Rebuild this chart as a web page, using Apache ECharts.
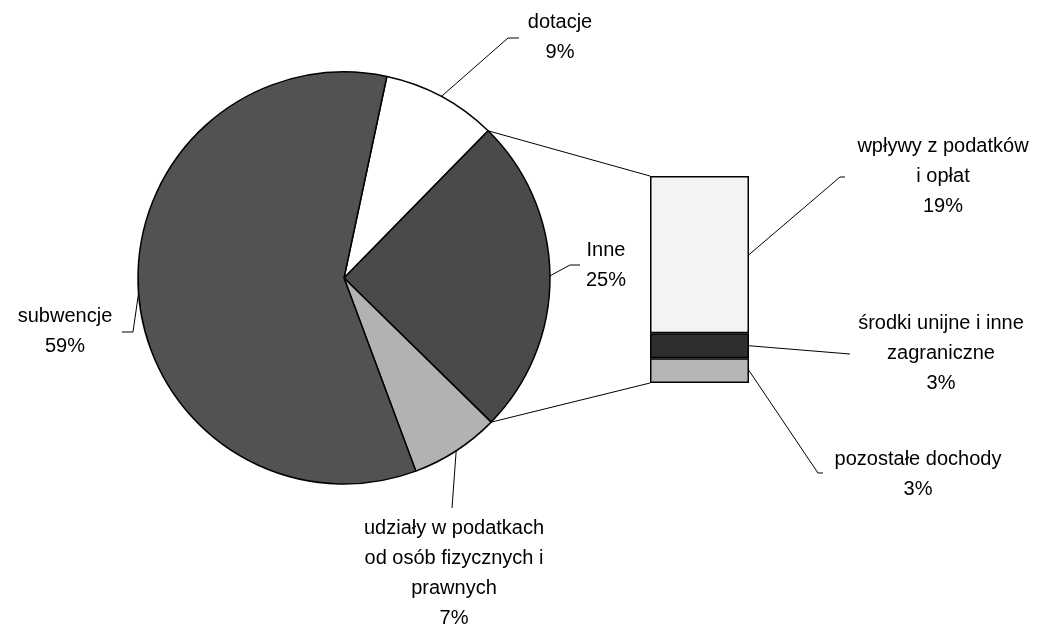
<!DOCTYPE html>
<html>
<head>
<meta charset="utf-8">
<script src="https://cdn.jsdelivr.net/npm/echarts@6/dist/echarts.min.js"></script>
<style>html,body{margin:0;padding:0;background:#fff}#c{width:1045px;height:624px}</style>
</head>
<body>
<div id="c"></div>
<script>
// ---- data ----
var pieNames = ['dotacje', 'Inne', 'udziały w podatkach\nod osób fizycznych i\nprawnych', 'subwencje'];
var pieValues = [9, 25, 7, 59];
var barNames = ['pozostałe dochody', 'środki unijne i inne\nzagraniczne', 'wpływy z podatków\ni opłat'];
var barValues = [3, 3, 19];

// ---- styles / layout ----
var pieColors = ['#ffffff', '#4a4a4a', '#b2b2b2', '#525252'];
var barColors = ['#b6b6b6', '#2e2e2e', '#f3f3f3'];
var pieCenter = [344, 278], pieRadius = 206, startAngle = 78;
var gridRect = {left: 650, top: 176, width: 99, height: 207};
var FONT = '"Liberation Sans", Arial, sans-serif';
var pieLabelPos = {
  0: {x: 560, y: 37, bend: [508, 38], end: [519, 38]},
  1: {x: 606, y: 265, bend: [570, 265], end: [580, 265]},
  2: {x: 454, y: 573, bend: [452, 508], end: [452, 508]},
  3: {x: 65, y: 331, bend: [133, 332], end: [122, 332]}
};
var barLabelPos = {
  0: {x: 918, y: 474, bend: [818, 473], end: [823, 473]},
  1: {x: 941, y: 353, bend: [850, 354], end: [850, 354]},
  2: {x: 943, y: 176, bend: [840, 177], end: [845, 177]}
};

var chart = echarts.init(document.getElementById('c'), null, {renderer: 'canvas'});
var total = pieValues.reduce(function (a, b) { return a + b; }, 0);
var barTotal = barValues.reduce(function (a, b) { return a + b; }, 0);

var labelText = {color: '#000', fontFamily: FONT, fontSize: 20, lineHeight: 30, align: 'center'};

var series = [{
  type: 'pie',
  center: pieCenter,
  radius: pieRadius,
  startAngle: startAngle,
  clockwise: true,
  avoidLabelOverlap: false,
  animation: false,
  data: pieNames.map(function (n, i) {
    return {name: n, value: pieValues[i], itemStyle: {color: pieColors[i]}};
  }),
  itemStyle: {borderColor: '#000', borderWidth: 1.5},
  label: Object.assign({show: true, position: 'outside', formatter: function (p) {
    return p.name + '\n' + Math.round(p.percent) + '%';
  }}, labelText),
  labelLine: {show: true, lineStyle: {color: '#000', width: 1}},
  emphasis: {disabled: true},
  labelLayout: function (p) {
    var o = pieLabelPos[p.dataIndex];
    var start = p.labelLinePoints ? p.labelLinePoints[0] : o.bend;
    return {x: o.x, y: o.y, align: 'center', verticalAlign: 'middle',
      labelLinePoints: [start, o.bend, o.end]};
  }
}];

barValues.forEach(function (v, i) {
  series.push({
    type: 'bar',
    stack: 'inne',
    barWidth: '100%',
    animation: false,
    data: [v],
    name: barNames[i],
    itemStyle: {color: barColors[i], borderColor: '#000', borderWidth: 1.5},
    emphasis: {disabled: true},
    label: Object.assign({show: true, position: 'right', formatter: function () {
      return barNames[i] + '\n' + Math.round(v / total * 100) + '%';
    }}, labelText),
    labelLine: {show: false},
    labelLayout: function () {
      var o = barLabelPos[i];
      return {x: o.x, y: o.y, align: 'center', verticalAlign: 'middle'};
    }
  });
});

chart.setOption({
  backgroundColor: '#fff',
  animation: false,
  grid: gridRect,
  xAxis: {type: 'category', data: ['Inne'], show: false},
  yAxis: {type: 'value', min: 0, max: barTotal, show: false},
  series: series
});

// connector lines from the "Inne" slice edges to the bar, and the bar label lines
function drawConnectors() {
  var before = pieValues[0];
  var a0 = (startAngle - before / total * 360) * Math.PI / 180;
  var a1 = (startAngle - (before + pieValues[1]) / total * 360) * Math.PI / 180;
  var p0 = [pieCenter[0] + pieRadius * Math.cos(a0), pieCenter[1] - pieRadius * Math.sin(a0)];
  var p1 = [pieCenter[0] + pieRadius * Math.cos(a1), pieCenter[1] - pieRadius * Math.sin(a1)];
  var yTop = chart.convertToPixel({yAxisIndex: 0}, barTotal);
  var yBot = chart.convertToPixel({yAxisIndex: 0}, 0);
  var xL = gridRect.left, xR = gridRect.left + gridRect.width;
  var lineStyle = {stroke: '#000', lineWidth: 1, fill: null};
  var g = [
    {type: 'line', shape: {x1: p0[0], y1: p0[1], x2: xL, y2: yTop}, style: lineStyle, z: 0},
    {type: 'line', shape: {x1: p1[0], y1: p1[1], x2: xL, y2: yBot}, style: lineStyle, z: 0}
  ];
  var cum = 0;
  barValues.forEach(function (v, i) {
    var yMid = chart.convertToPixel({yAxisIndex: 0}, cum + v / 2);
    cum += v;
    var o = barLabelPos[i];
    g.push({type: 'polyline', shape: {points: [[xR, yMid], o.bend, o.end]}, style: lineStyle, z: 5});
  });
  chart.setOption({graphic: g});
}
drawConnectors();
</script>
</body>
</html>
